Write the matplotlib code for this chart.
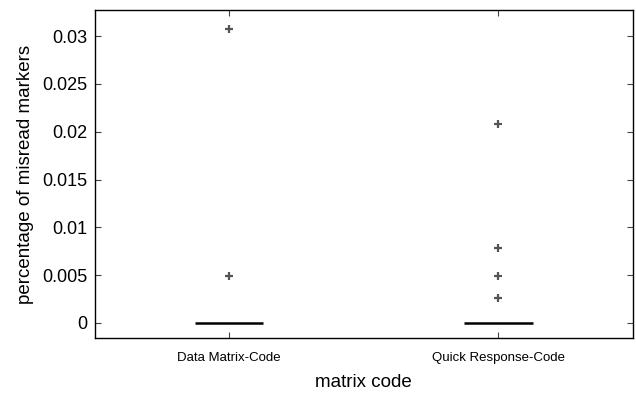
import matplotlib
matplotlib.use("Agg")
import matplotlib.pyplot as plt

plt.rcParams["font.family"] = ["Liberation Sans", "DejaVu Sans"]

categories = ["Data Matrix-Code", "Quick Response-Code"]
# every quartile and whisker sits at zero, only the outliers show up
medians = [0.0, 0.0]
outliers = [
    [0.0307, 0.0049],
    [0.0208, 0.00787, 0.00486, 0.00258],
]
y_ticks = [0, 0.005, 0.01, 0.015, 0.02, 0.025, 0.03]
y_labels = ["0", "0.005", "0.01", "0.015", "0.02", "0.025", "0.03"]

stats = []
for name, med, fl in zip(categories, medians, outliers):
    stats.append({
        "label": name, "med": med, "q1": med, "q3": med,
        "whislo": med, "whishi": med, "fliers": fl,
    })

fig = plt.figure(figsize=(6.36, 3.94), dpi=100)
ax = fig.add_axes([94.5 / 636, 1 - 338 / 394, (633 - 94.5) / 636, (338 - 10) / 394])

ax.bxp(stats, positions=[1, 2], widths=0.255, showcaps=False,
       boxprops=dict(linewidth=0),
       whiskerprops=dict(linewidth=0),
       medianprops=dict(color="black", linewidth=1.8),
       flierprops=dict(marker="+", markeredgecolor="#555555", markersize=6,
                       markeredgewidth=1.6, linestyle="none"))

ax.set_xlim(0.5, 2.5)
ax.set_ylim(-0.00157, 0.03272)
ax.set_xticks([1, 2])
ax.set_xticklabels(categories, fontsize=9.5)
ax.set_yticks(y_ticks)
ax.set_yticklabels(y_labels, fontsize=13)
ax.tick_params(direction="in", top=True, right=True, length=4, width=0.8,
               color="#444444", pad=5)
ax.tick_params(axis="x", pad=10)
for sp in ax.spines.values():
    sp.set_linewidth(1.0)

ax.set_xlabel("matrix code", fontsize=13.5, labelpad=7)
ax.set_ylabel("percentage of misread markers", fontsize=13.5, labelpad=6)

fig.savefig("out.png", dpi=100)
